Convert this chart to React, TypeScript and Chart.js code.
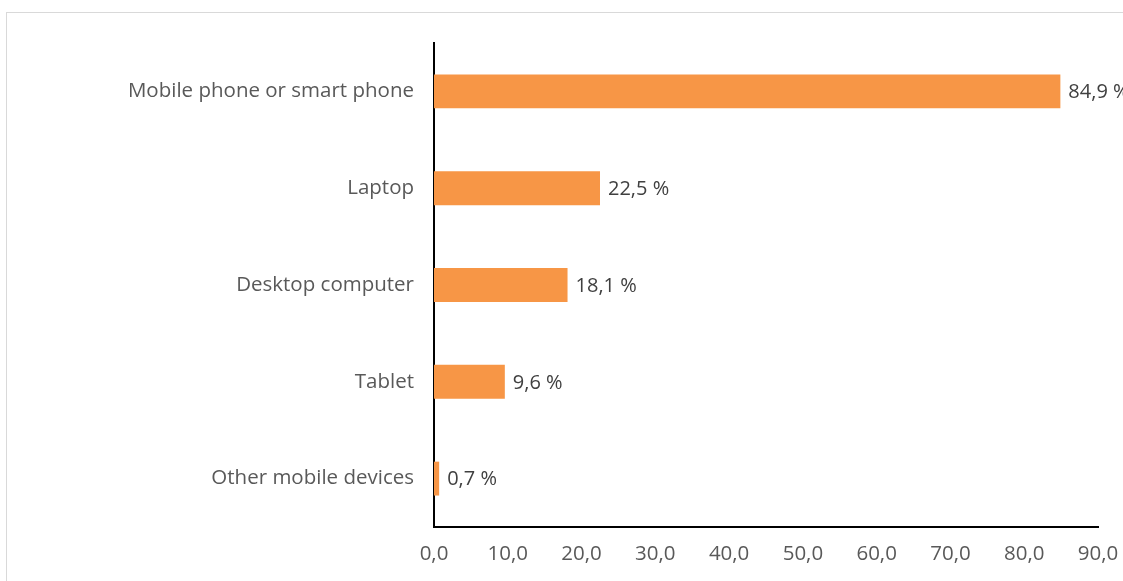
import React, { useEffect, useRef } from "react";
import { Chart, registerables } from "chart.js";

Chart.register(...registerables);

const categories = [
  "Mobile phone or smart phone",
  "Laptop",
  "Desktop computer",
  "Tablet",
  "Other mobile devices",
];
const values = [84.9, 22.5, 18.1, 9.6, 0.7];
const xTicks = [0, 10, 20, 30, 40, 50, 60, 70, 80, 90];

const FONT = "'Open Sans'";

const fmt = (v: number) => v.toFixed(1).replace(".", ",");

const frame = {
  id: "frame",
  beforeDraw(chart: any) {
    const ctx = chart.ctx;
    ctx.save();
    ctx.strokeStyle = "#D9D9D9";
    ctx.lineWidth = 1;
    ctx.strokeRect(6.5, 12.5, 1300, 800);
    ctx.restore();
  },
};

const valueLabels = {
  id: "valueLabels",
  afterDatasetsDraw(chart: any) {
    const ctx = chart.ctx;
    const meta = chart.getDatasetMeta(0);
    ctx.save();
    ctx.font = `20px ${FONT}`;
    ctx.fillStyle = "#404040";
    ctx.textAlign = "left";
    ctx.textBaseline = "middle";
    meta.data.forEach((bar: any, i: number) => {
      ctx.fillText(fmt(values[i]) + " %", bar.x + 8, bar.y + 1);
    });
    ctx.restore();
  },
};

export default function App() {
  const ref = useRef<HTMLCanvasElement>(null);
  useEffect(() => {
    if (!ref.current) return;
    const chart = new Chart(ref.current, {
      type: "bar",
      data: {
        labels: categories,
        datasets: [
          {
            data: values,
            backgroundColor: "#F79646",
            borderWidth: 0,
            barPercentage: 0.7,
            categoryPercentage: 0.5,
          },
        ],
      },
      options: {
        indexAxis: "y",
        responsive: false,
        animation: false,
        layout: { padding: { top: 43, right: 25, left: 0, bottom: 0 } },
        plugins: {
          legend: { display: false },
          tooltip: { enabled: false },
        },
        scales: {
          x: {
            min: 0,
            max: 90,
            afterBuildTicks(axis: any) {
              axis.ticks = xTicks.map((v) => ({ value: v }));
            },
            afterFit(axis: any) {
              axis.height = 581 - 527;
              axis.paddingRight = 0;
              axis.paddingLeft = 0;
            },
            grid: { display: false, drawTicks: false },
            border: { display: true, color: "#000000", width: 2 },
            ticks: {
              padding: 15,
              color: "#595959",
              font: { family: FONT, size: 20.5 },
              maxRotation: 0,
              autoSkip: false,
              callback: (v: any) => fmt(Number(v)),
            },
          },
          y: {
            afterFit(axis: any) {
              axis.width = 434;
            },
            grid: { display: false, drawTicks: false },
            border: { display: true, color: "#000000", width: 2 },
            ticks: {
              padding: 20,
              color: "#595959",
              font: { family: FONT, size: 20.5 },
            },
          },
        },
      },
      plugins: [frame, valueLabels],
    });
    return () => chart.destroy();
  }, []);
  return (
    <div style={{ position: "absolute", left: 0, top: 0, width: 1123, height: 581, background: "#fff" }}>
      <canvas ref={ref} width={1123} height={581} style={{ display: "block" }} />
    </div>
  );
}
